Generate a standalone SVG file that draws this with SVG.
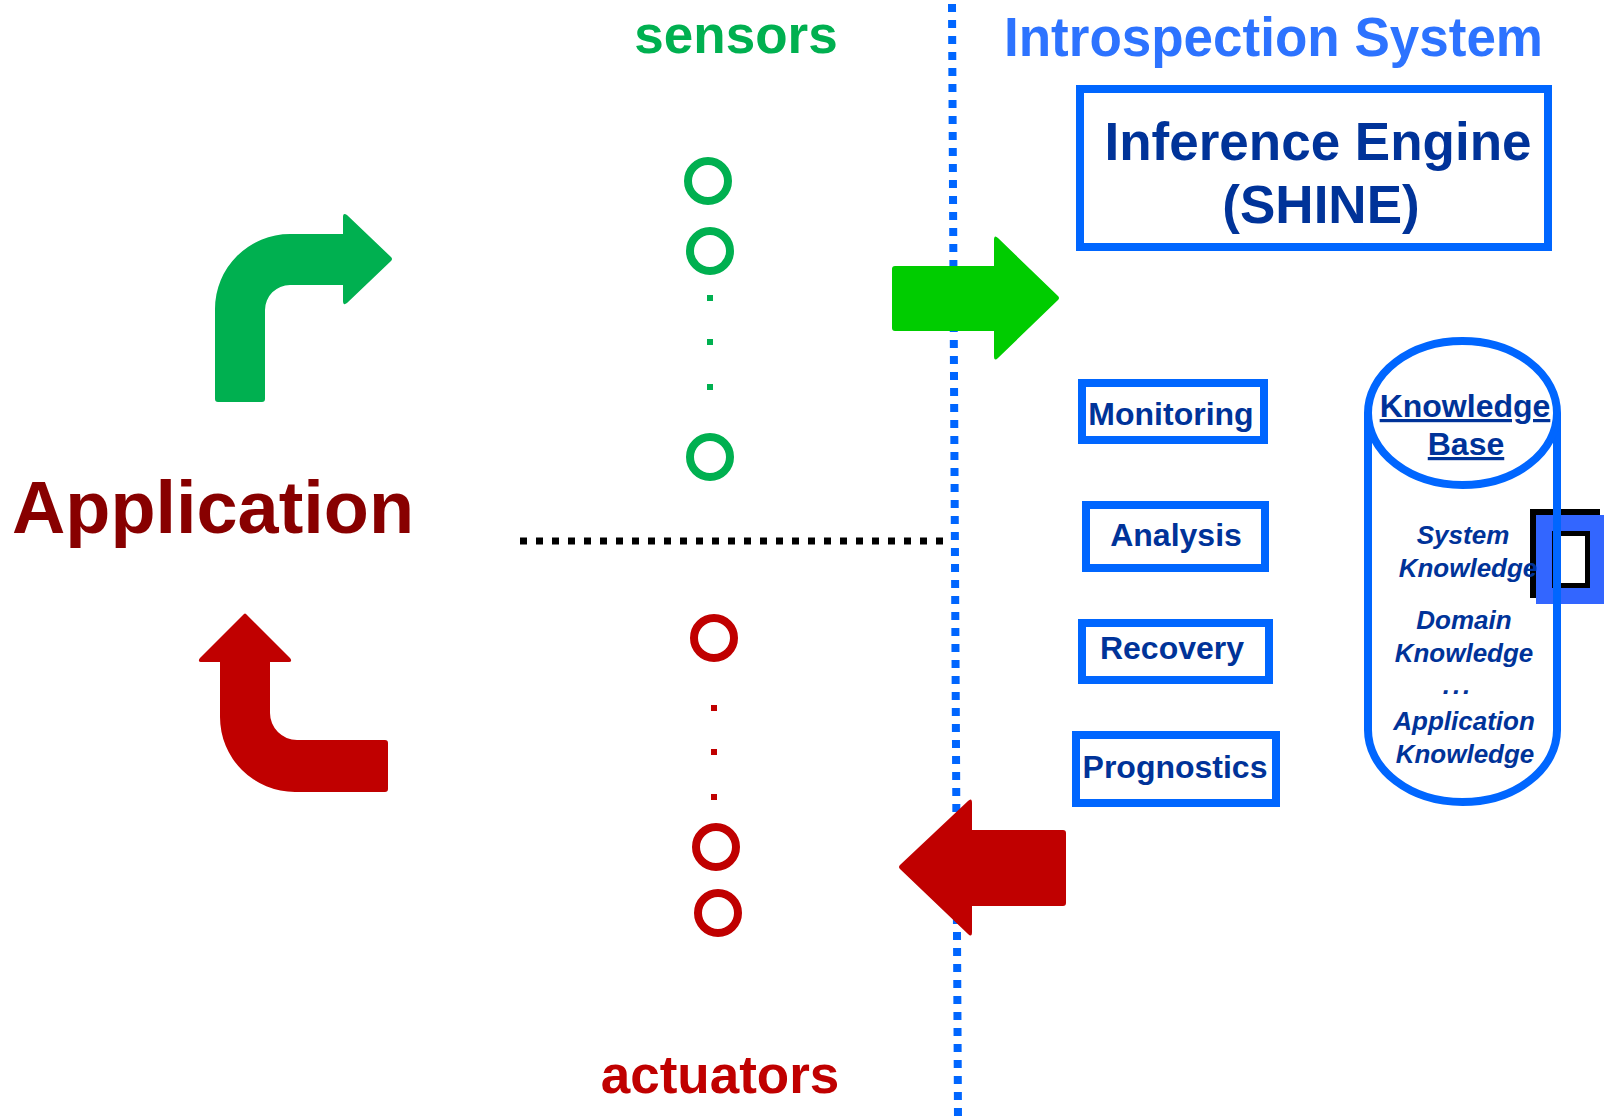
<svg xmlns="http://www.w3.org/2000/svg" width="1604" height="1118" viewBox="0 0 1604 1118">
<style>
  text { font-family: "Liberation Sans", Arial, sans-serif; font-weight: bold; }
  .box { fill: #fff; stroke: #0066FF; stroke-width: 8; }
  .lbl { fill: #003399; font-size: 32px; text-anchor: middle; }
  .kb { fill: #003399; font-size: 26px; font-style: italic; text-anchor: middle; }
  .sens { fill: none; stroke: #00B050; stroke-width: 8; }
  .act { fill: none; stroke: #C00000; stroke-width: 8; }
</style>
<rect width="1604" height="1118" fill="#fff"/>

<g id="separators">
  <line x1="952" y1="4" x2="958" y2="1118" stroke="#0066FF" stroke-width="8" stroke-dasharray="8 8"/>
  <line x1="520" y1="541" x2="950" y2="541" stroke="#000" stroke-width="7" stroke-dasharray="7 9"/>
</g>

<g id="title">
  <text x="1004" y="56" font-size="55" fill="#2D73FF" textLength="539" lengthAdjust="spacingAndGlyphs">Introspection System</text>
</g>
<g id="sensors-label">
  <text x="736" y="53" font-size="53" fill="#00B050" text-anchor="middle">sensors</text>
</g>
<g id="actuators-label">
  <text x="720" y="1093" font-size="53" fill="#C00000" text-anchor="middle">actuators</text>
</g>
<g id="application">
  <text x="12" y="533" font-size="74" fill="#880000" textLength="402" lengthAdjust="spacingAndGlyphs">Application</text>
</g>

<g id="sensors">
  <circle class="sens" cx="708" cy="181" r="20"/>
  <circle class="sens" cx="710" cy="251" r="20"/>
  <circle class="sens" cx="710" cy="457" r="20"/>
  <rect x="707" y="295" width="6" height="6" fill="#00B050"/>
  <rect x="707" y="339" width="6" height="6" fill="#00B050"/>
  <rect x="707" y="384" width="6" height="6" fill="#00B050"/>
</g>

<g id="actuators">
  <circle class="act" cx="714" cy="638" r="20"/>
  <circle class="act" cx="716" cy="847" r="20"/>
  <circle class="act" cx="718" cy="913" r="20"/>
  <rect x="711" y="705" width="6" height="6" fill="#C00000"/>
  <rect x="711" y="749" width="6" height="6" fill="#C00000"/>
  <rect x="711" y="794" width="6" height="6" fill="#C00000"/>
</g>

<g id="inference-engine">
  <rect class="box" x="1080" y="89" width="468" height="158"/>
  <text x="1318" y="160" font-size="53" fill="#003399" text-anchor="middle">Inference Engine</text>
  <text x="1321" y="223" font-size="53" fill="#003399" text-anchor="middle">(SHINE)</text>
</g>

<g id="monitoring">
  <rect class="box" x="1082" y="383" width="182" height="57"/>
  <text class="lbl" x="1171" y="425">Monitoring</text>
</g>
<g id="analysis">
  <rect class="box" x="1086" y="505" width="179" height="63"/>
  <text class="lbl" x="1176" y="546">Analysis</text>
</g>
<g id="recovery">
  <rect class="box" x="1082" y="623" width="187" height="57"/>
  <text class="lbl" x="1172" y="659">Recovery</text>
</g>
<g id="prognostics">
  <rect class="box" x="1076" y="735" width="200" height="68"/>
  <text class="lbl" x="1175" y="778">Prognostics</text>
</g>

<g id="knowledge-base">
  <path d="M1368,413 L1368,730 A94.5,72 0 0 0 1557,730 L1557,413 Z" fill="#fff" stroke="none"/>
  <g id="artifact">
    <rect x="1533" y="512" width="64" height="83" fill="none" stroke="#000" stroke-width="6"/>
    <rect x="1544" y="523" width="54" height="73" fill="none" stroke="#3366FF" stroke-width="16"/>
    <rect x="1554.5" y="533.5" width="33" height="52" fill="#fff" stroke="#000" stroke-width="5"/>
  </g>
  <path d="M1368,413 L1368,730 A94.5,72 0 0 0 1557,730 L1557,413" fill="none" stroke="#0066FF" stroke-width="8"/>
  <ellipse cx="1462.5" cy="413" rx="94.5" ry="72" fill="#fff" stroke="#0066FF" stroke-width="8"/>
  <text class="lbl" x="1465" y="417" text-decoration="underline">Knowledge</text>
  <text class="lbl" x="1466" y="455" text-decoration="underline">Base</text>
  <text class="kb" x="1463" y="544">System</text>
  <text class="kb" x="1468" y="577">Knowledge</text>
  <text class="kb" x="1464" y="629">Domain</text>
  <text class="kb" x="1464" y="662">Knowledge</text>
  <text class="kb" x="1458" y="694" font-size="38" letter-spacing="3">...</text>
  <text class="kb" x="1464" y="730">Application</text>
  <text class="kb" x="1465" y="763">Knowledge</text>
</g>

<g id="connectors">
  <path d="M892,269 Q892,266 895,266 L994,266 L994,240 Q994,234 998,238 L1058,296 Q1060,298 1058,300 L998,358 Q994,362 994,356 L994,331 L895,331 Q892,331 892,328 Z" fill="#00CC00"/>
  <path d="M1066,833 Q1066,830 1063,830 L972,830 L972,803 Q972,797 968,801 L900,865 Q898,867 900,869 L968,934 Q972,938 972,932 L972,906 L1063,906 Q1066,906 1066,903 Z" fill="#C00000"/>
  <path d="M218,402 Q215,402 215,399 L215,309 A75,75 0 0 1 290,234 L343,234 L343,217 Q343,212 347,215 L391,257 Q393,259 391,261 L347,303 Q343,306 343,301 L343,285 L290,285 A25,25 0 0 0 265,310 L265,399 Q265,402 262,402 Z" fill="#00B050"/>
  <path d="M243,615 Q245,612 247,615 L290,658 Q293,662 288,662 L270,662 L270,713 A27,27 0 0 0 297,740 L385,740 Q388,740 388,743 L388,789 Q388,792 385,792 L295,792 A75,75 0 0 1 220,717 L220,662 L202,662 Q197,662 200,658 Z" fill="#C00000"/>
</g>
</svg>
